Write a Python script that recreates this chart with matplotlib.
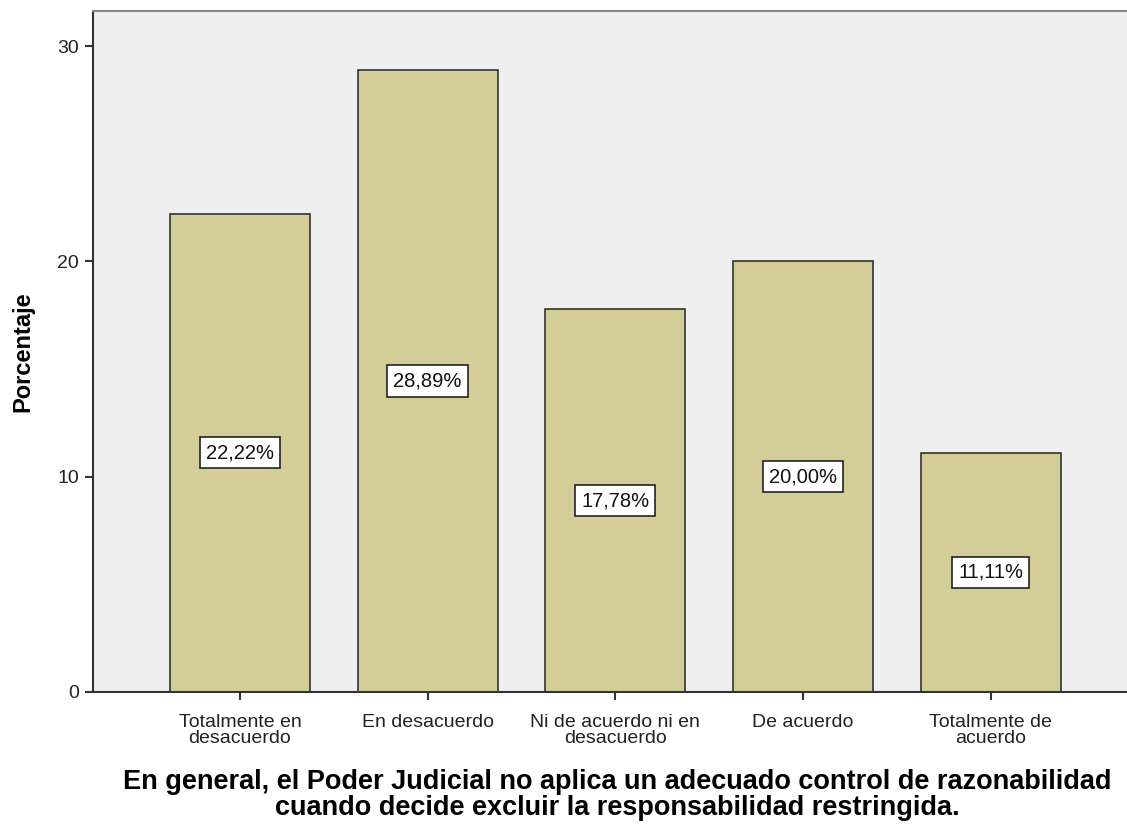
import matplotlib
matplotlib.use('Agg')
import matplotlib.pyplot as plt

categorias = ['Totalmente en\ndesacuerdo', 'En desacuerdo', 'Ni de acuerdo ni en\ndesacuerdo',
              'De acuerdo', 'Totalmente de\nacuerdo']
porcentajes = [22.22, 28.89, 17.78, 20.00, 11.11]
etiquetas = ['22,22%', '28,89%', '17,78%', '20,00%', '11,11%']
yticks = [0, 10, 20, 30]

plt.rcParams['font.family'] = ['Liberation Sans', 'DejaVu Sans']

fig = plt.figure(figsize=(11.27, 8.25), dpi=100)
ax = fig.add_axes([93 / 1127, 1 - 692 / 825, 1 - 93 / 1127, (692 - 11) / 825])
ax.set_facecolor('#EFEFEF')

x = range(len(categorias))
bars = ax.bar(x, porcentajes, width=0.746, color='#D3CE97', edgecolor='#333333', linewidth=1.2, zorder=2)

for b, t in zip(bars, etiquetas):
    ax.text(b.get_x() + b.get_width() / 2, b.get_height() / 2, t, ha='center', va='center',
            fontsize=14.5, color='#111111', zorder=3,
            bbox=dict(boxstyle='square,pad=0.3', facecolor='white', edgecolor='#222222', linewidth=1.2))

ax.set_xlim(-0.783, 4.726)
ax.set_ylim(0, 31.63)
ax.set_yticks(yticks)
ax.set_yticklabels([str(v) for v in yticks], fontsize=14, color='#222222')
ax.set_xticks(list(x))
ax.set_xticklabels(categorias, fontsize=14, color='#222222', linespacing=0.88)
ax.tick_params(axis='both', length=6, width=1.5, color='#333333')
ax.tick_params(axis='y', pad=4)
ax.tick_params(axis='x', pad=10)

ax.spines['right'].set_visible(False)
ax.spines['top'].set_color('#888888')
ax.spines['top'].set_linewidth(1.5)
ax.spines['left'].set_color('#333333')
ax.spines['left'].set_linewidth(1.5)
ax.spines['bottom'].set_color('#333333')
ax.spines['bottom'].set_linewidth(1.5)

ax.set_ylabel('Porcentaje', fontsize=17, fontweight='bold')
ax.yaxis.label.set_va('center')
ax.yaxis.set_label_coords(-0.068, 0.5)
ax.set_xlabel('En general, el Poder Judicial no aplica un adecuado control de razonabilidad\n'
              'cuando decide excluir la responsabilidad restringida.',
              fontsize=19.5, fontweight='bold', linespacing=1.0)
ax.xaxis.label.set_va('top')
ax.xaxis.set_label_coords(0.507, -0.113)

fig.savefig('out.png', dpi=100)
